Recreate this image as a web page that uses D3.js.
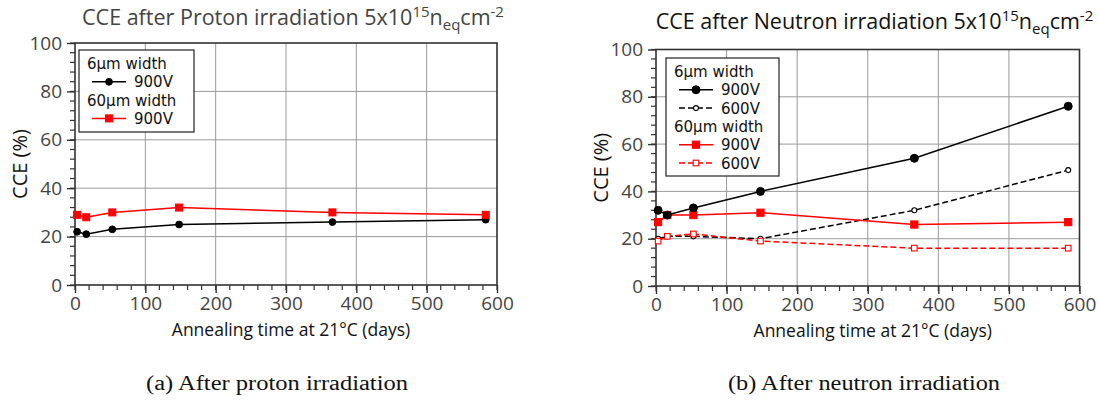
<!DOCTYPE html>
<html>
<head>
<meta charset="utf-8">
<script src="https://cdn.jsdelivr.net/npm/d3@7"></script>
<style>
  body { margin: 0; background: #fff; }
  svg { display: block; font-family: "Open Sans", sans-serif; }
</style>
</head>
<body>
<svg id="chart" width="1099" height="401"></svg>
<script>
// annealing days, shared by every series
const days = [3, 16, 53, 148, 366, 584];

// proton irradiation, CCE (%)
const protonNarrow900 = [22, 21, 23, 25, 26, 27];
const protonWide900 = [29, 28, 30, 32, 30, 29];

// neutron irradiation, CCE (%)
const neutronNarrow900 = [32, 30, 33, 40, 54, 76];
const neutronNarrow600 = [20, 21, 21, 20, 32, 49];
const neutronWide900 = [27, 30, 30, 31, 26, 27];
const neutronWide600 = [19, 21, 22, 19, 16, 16];

const xTicks = [0, 100, 200, 300, 400, 500, 600];
const yTicks = [0, 20, 40, 60, 80, 100];

const svg = d3.select("#chart");

function drawPanel(opt) {
  const x = d3.scaleLinear().domain([0, 600]).range([opt.left, opt.right]);
  const y = d3.scaleLinear().domain([0, 100]).range([opt.bottom, opt.top]);
  const g = svg.append("g");

  // grid
  g.append("g").selectAll("line").data(xTicks.slice(1, -1)).join("line")
    .attr("x1", d => x(d)).attr("x2", d => x(d))
    .attr("y1", opt.top).attr("y2", opt.bottom)
    .attr("stroke", "#9a9a9a").attr("stroke-width", 1);
  g.append("g").selectAll("line").data(yTicks.slice(1, -1)).join("line")
    .attr("y1", d => y(d)).attr("y2", d => y(d))
    .attr("x1", opt.left).attr("x2", opt.right)
    .attr("stroke", "#9a9a9a").attr("stroke-width", 1);

  // minor ticks
  const xMinor = d3.range(0, 601, 20);
  const yMinor = d3.range(0, 101, 4);
  g.append("g").selectAll("line").data(xMinor).join("line")
    .attr("x1", d => x(d)).attr("x2", d => x(d))
    .attr("y1", opt.bottom).attr("y2", opt.bottom + 5)
    .attr("stroke", "#333").attr("stroke-width", 1.2);
  g.append("g").selectAll("line").data(yMinor).join("line")
    .attr("y1", d => y(d)).attr("y2", d => y(d))
    .attr("x1", opt.left - 5).attr("x2", opt.left)
    .attr("stroke", "#333").attr("stroke-width", 1.2);

  // axes
  const xAxis = g.append("g")
    .attr("transform", `translate(0,${opt.bottom})`)
    .call(d3.axisBottom(x).tickValues(xTicks).tickSizeInner(8).tickSizeOuter(0).tickPadding(4));
  const yAxis = g.append("g")
    .attr("transform", `translate(${opt.left},0)`)
    .call(d3.axisLeft(y).tickValues(yTicks).tickSizeInner(8).tickSizeOuter(0).tickPadding(5));
  [xAxis, yAxis].forEach(a => {
    a.select(".domain").remove();
    a.selectAll(".tick line").attr("stroke", "#333").attr("stroke-width", 1.4);
    a.selectAll("text").attr("font-size", 19).attr("fill", "#444")
      .attr("font-family", "'Open Sans', sans-serif");
  });

  // frame
  g.append("rect")
    .attr("x", opt.left).attr("y", opt.top)
    .attr("width", opt.right - opt.left).attr("height", opt.bottom - opt.top)
    .attr("fill", "none").attr("stroke", "#333").attr("stroke-width", 1.6);

  // title
  const t = g.append("text")
    .attr("x", opt.titleX).attr("y", opt.titleY)
    .attr("text-anchor", "middle").attr("font-size", 21.5).attr("fill", opt.titleColor);
  t.append("tspan").text(opt.title + " 5x10");
  t.append("tspan").attr("dy", -8).attr("font-size", 15).text("15");
  t.append("tspan").attr("dy", 8).text("n");
  t.append("tspan").attr("dy", 5).attr("font-size", 15).text("eq");
  t.append("tspan").attr("dy", -5).text("cm");
  t.append("tspan").attr("dy", -8).attr("font-size", 15).text("-2");

  // axis labels
  g.append("text")
    .attr("x", (opt.left + opt.right) / 2 + 5).attr("y", opt.bottom + 51)
    .attr("text-anchor", "middle").attr("font-size", 17.5).attr("fill", "#111")
    .text("Annealing time at 21°C (days)");
  g.append("text")
    .attr("transform", `translate(${opt.left - 48},${(opt.top + opt.bottom) / 2}) rotate(-90)`)
    .attr("text-anchor", "middle").attr("font-size", 20).attr("fill", "#111")
    .text("CCE (%)");

  // series
  const line = d3.line().x(d => x(d[0])).y(d => y(d[1]));
  opt.series.forEach(s => {
    const pts = days.map((d, i) => [d, s.values[i]]);
    g.append("path").datum(pts)
      .attr("fill", "none").attr("stroke", s.color).attr("stroke-width", 1.5)
      .attr("stroke-dasharray", s.dash || null)
      .attr("d", line);
    drawMarkers(g, pts.map(p => [x(p[0]), y(p[1])]), s);
  });

  // legend
  const lg = g.append("g");
  lg.append("rect")
    .attr("x", opt.legend.x).attr("y", opt.legend.y)
    .attr("width", opt.legend.w).attr("height", opt.legend.h)
    .attr("fill", "#fff").attr("stroke", "#222").attr("stroke-width", 1.2);
  opt.legend.rows.forEach((r, i) => {
    const by = opt.legend.y + 19 + i * 18.3;
    if (r.header) {
      lg.append("text").attr("x", opt.legend.x + 8).attr("y", by)
        .attr("font-family", "'DejaVu Sans', sans-serif")
        .attr("font-size", 15).attr("fill", "#111").text(r.header);
    } else {
      const lx1 = opt.legend.x + 13, lx2 = opt.legend.x + 47, ly = by - 5.5;
      lg.append("line").attr("x1", lx1).attr("x2", lx2).attr("y1", ly).attr("y2", ly)
        .attr("stroke", r.s.color).attr("stroke-width", 1.5)
        .attr("stroke-dasharray", r.s.dash || null);
      drawMarkers(lg, [[(lx1 + lx2) / 2, ly]], r.s);
      lg.append("text").attr("x", opt.legend.x + 55).attr("y", by)
        .attr("font-family", "'DejaVu Sans', sans-serif")
        .attr("font-size", 15).attr("fill", "#111").text(r.label);
    }
  });
}

function drawMarkers(g, pts, s) {
  if (s.shape === "circle") {
    g.append("g").selectAll("circle").data(pts).join("circle")
      .attr("cx", d => d[0]).attr("cy", d => d[1]).attr("r", s.size)
      .attr("fill", s.open ? "#fff" : s.color)
      .attr("stroke", s.color).attr("stroke-width", s.open ? 1.1 : 1);
  } else {
    g.append("g").selectAll("rect").data(pts).join("rect")
      .attr("x", d => d[0] - s.size).attr("y", d => d[1] - s.size)
      .attr("width", s.size * 2).attr("height", s.size * 2)
      .attr("fill", s.open ? "#fff" : s.color)
      .attr("stroke", s.color).attr("stroke-width", s.open ? 1.1 : 1);
  }
}

const pNarrow = { values: protonNarrow900, color: "#000", shape: "circle", size: 3.4 };
const pWide = { values: protonWide900, color: "#ff0000", shape: "square", size: 3.5 };
drawPanel({
  left: 75, right: 497, top: 43, bottom: 285,
  title: "CCE after Proton irradiation", titleX: 293, titleY: 25, titleColor: "#444",
  series: [pNarrow, pWide],
  legend: { x: 79, y: 50, w: 115, h: 82, rows: [
    { header: "6μm width" }, { s: pNarrow, label: "900V" },
    { header: "60μm width" }, { s: pWide, label: "900V" }
  ] }
});

const nNarrow900 = { values: neutronNarrow900, color: "#000", shape: "circle", size: 4 };
const nNarrow600 = { values: neutronNarrow600, color: "#000", shape: "circle", size: 2.5, open: true, dash: "6,3" };
const nWide900 = { values: neutronWide900, color: "#ff0000", shape: "square", size: 3.6 };
const nWide600 = { values: neutronWide600, color: "#ff0000", shape: "square", size: 2.8, open: true, dash: "6,3" };
drawPanel({
  left: 656, right: 1079.5, top: 49.5, bottom: 286,
  title: "CCE after Neutron irradiation", titleX: 874.5, titleY: 29, titleColor: "#111",
  series: [nNarrow600, nWide600, nWide900, nNarrow900],
  legend: { x: 666, y: 58, w: 113, h: 118, rows: [
    { header: "6μm width" }, { s: nNarrow900, label: "900V" }, { s: nNarrow600, label: "600V" },
    { header: "60μm width" }, { s: nWide900, label: "900V" }, { s: nWide600, label: "600V" }
  ] }
});

// sub-figure captions
svg.append("text").attr("x", 277).attr("y", 390).attr("text-anchor", "middle")
  .attr("font-family", "'Liberation Serif', serif").attr("font-size", 20).attr("fill", "#111")
  .attr("textLength", 262).attr("lengthAdjust", "spacingAndGlyphs")
  .text("(a)  After proton irradiation");
svg.append("text").attr("x", 864).attr("y", 390).attr("text-anchor", "middle")
  .attr("font-family", "'Liberation Serif', serif").attr("font-size", 20).attr("fill", "#111")
  .attr("textLength", 272).attr("lengthAdjust", "spacingAndGlyphs")
  .text("(b)  After neutron irradiation");
</script>
</body>
</html>
